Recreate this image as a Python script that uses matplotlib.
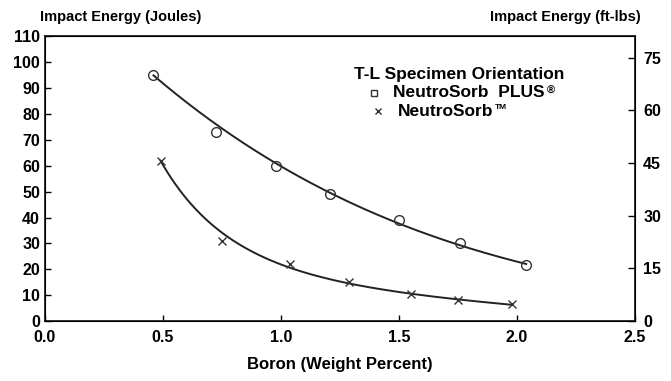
import numpy as np
import matplotlib.pyplot as plt

plt.rcParams['font.family'] = ['Liberation Sans', 'DejaVu Sans']
plt.rcParams['font.weight'] = 'bold'

# NeutroSorb PLUS (circles)
boron_plus = [0.46, 0.725, 0.98, 1.21, 1.50, 1.76, 2.04]
energy_plus = [95, 73, 60, 49, 39, 30, 21.5]

# NeutroSorb (crosses)
boron_ns = [0.49, 0.75, 1.04, 1.29, 1.55, 1.75, 1.98]
energy_ns = [62, 31, 22, 15, 10.5, 8, 6.5]

xticks = [0.0, 0.5, 1.0, 1.5, 2.0, 2.5]
yticks = [0, 10, 20, 30, 40, 50, 60, 70, 80, 90, 100, 110]
ftlb_ticks = [0, 15, 30, 45, 60, 75]
J_PER_FTLB = 1.3558

fig = plt.figure(figsize=(6.71, 3.81), dpi=100)
ax = fig.add_axes([0.067, 0.157, 0.879, 0.748])

# smooth fitted curves through each series (end points weighted so the curve starts on them)
for bx, ey, deg in [(boron_plus, energy_plus, 2), (boron_ns, energy_ns, 3)]:
    w = np.ones(len(bx))
    w[0] = 5
    c = np.polyfit(bx, np.log(ey), deg, w=w)
    xs = np.linspace(min(bx), max(bx), 200)
    ax.plot(xs, np.exp(np.polyval(c, xs)), color='#222222', lw=1.4)

ax.plot(boron_plus, energy_plus, 'o', ms=7, mfc='none', mec='#333333', mew=1.0)
ax.plot(boron_ns, energy_ns, 'x', ms=6, color='#333333', mew=1.0)

ax.set_xlim(0, 2.5)
ax.set_ylim(0, 110)
ax.set_xticks(xticks)
ax.set_xticklabels([f"{t:.1f}" for t in xticks])
ax.set_yticks(yticks)
ax.tick_params(direction='in', length=4, labelsize=11.5, width=1)
ax.tick_params(axis='x', pad=6)
for s in ax.spines.values():
    s.set_linewidth(1.3)
    s.set_color('#222222')

ax2 = ax.twinx()
ax2.set_ylim(0, 110 / J_PER_FTLB)
ax2.set_yticks(ftlb_ticks)
ax2.tick_params(direction='in', length=5, labelsize=11.5, width=1, pad=6)

ax.set_xlabel("Boron (Weight Percent)", fontsize=12, fontweight='bold', labelpad=9)
fig.text(0.06, 0.955, "Impact Energy (Joules)", fontsize=10.5, ha='left', va='center')
fig.text(0.955, 0.955, "Impact Energy (ft-lbs)", fontsize=10.5, ha='right', va='center')

# legend drawn as text block
ax.text(1.31, 95.3, "T-L Specimen Orientation", fontsize=12.5, va='center')
ax.plot([1.395], [88.2], 's', ms=5, mfc='none', mec='#333333', mew=1.0)
t1 = ax.text(1.475, 88.2, "NeutroSorb  PLUS", fontsize=12.5, va='center')
ax.annotate("\u00ae", xy=(1, 1), xycoords=t1, xytext=(2, -4),
            textcoords='offset points', fontsize=8, va='center')
ax.plot([1.41], [81.0], 'x', ms=5, color='#333333', mew=1.0)
t2 = ax.text(1.495, 81.0, "NeutroSorb", fontsize=12.5, va='center')
ax.annotate("TM", xy=(1, 1), xycoords=t2, xytext=(1, -3),
            textcoords='offset points', fontsize=6, va='center')

fig.savefig("out.png", dpi=100)
